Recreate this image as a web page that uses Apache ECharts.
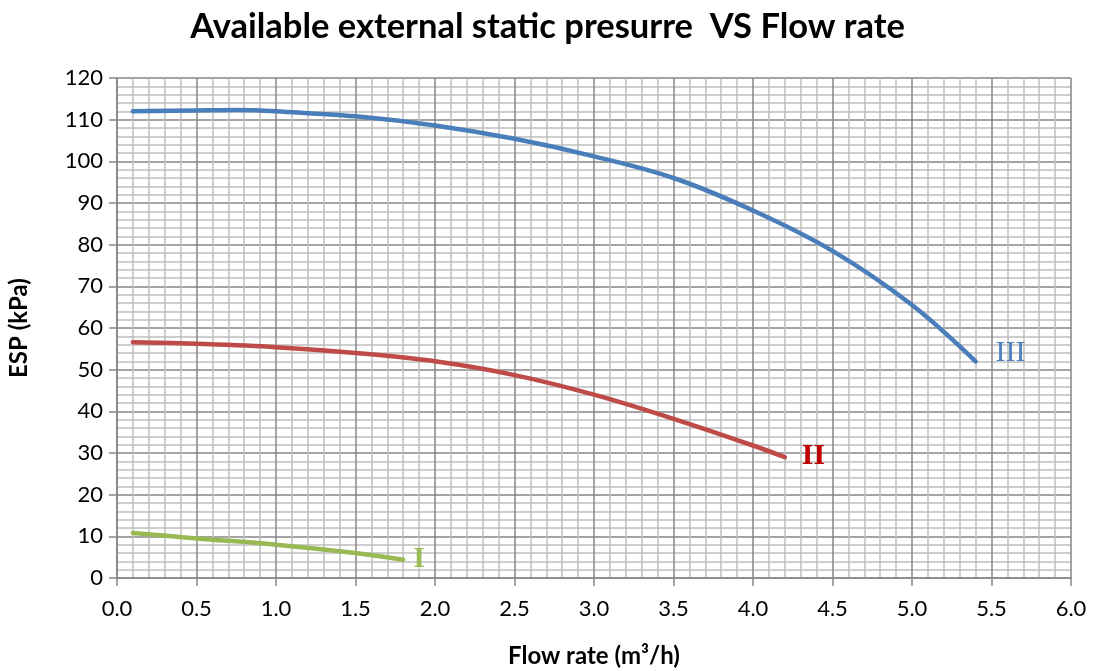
<!DOCTYPE html>
<html><head><meta charset="utf-8">
<script src="https://cdn.jsdelivr.net/npm/echarts@6/dist/echarts.min.js"></script>
<style>html,body{margin:0;padding:0;background:#fff}#c{width:1095px;height:671px}</style>
</head><body><div id="c"></div>
<script>
const seriesIII = [[0.1,112],[0.5,112.2],[0.75,112.3],[1.0,112],[1.5,110.8],[2.0,108.6],[2.5,105.4],[3.0,101.2],[3.5,96],[4.0,88.2],[4.5,78.5],[5.0,65.5],[5.4,52]];
const seriesII = [[0.1,56.6],[0.5,56.2],[1.0,55.4],[1.5,54],[2.0,52],[2.5,48.7],[3.0,44],[3.5,38.2],[4.0,31.8],[4.2,29]];
const seriesI = [[0.1,10.8],[0.5,9.5],[1.0,8],[1.5,6],[1.8,4.4]];
const curveLabels = ['III','II','I'];
const labelCoords = [[5.62,54],[4.38,29.2],[1.9,4.6]];
const xTicks = {min:0, max:6, interval:0.5};
const yTicks = {min:0, max:120, interval:10};

const chart = echarts.init(document.getElementById('c'));
function mk(name, data, color, labColor, idx, bold) {
  return {
    name, type:'line', data, smooth:0.35, showSymbol:false, symbol:'none',
    lineStyle:{color, width:4.5, cap:'round'},
    markPoint:{
      symbol:'circle', symbolSize:0, silent:true,
      data:[{coord:labelCoords[idx], label:{show:true, formatter:curveLabels[idx], color:labColor,
        fontFamily:'Liberation Serif', fontSize:30, fontWeight: bold?'bold':'normal'}}]
    }
  };
}
chart.setOption({
  animation:false,
  title:{text:'Available external static presurre  VS Flow rate', left:'center', top:4,
    textStyle:{fontFamily:'Lato', fontWeight:'bold', fontSize:34.5, color:'#000'}},
  grid:{left:117, right:24, top:78, bottom:93, outerBoundsMode:'none', containLabel:false},
  xAxis:{type:'value', min:xTicks.min, max:xTicks.max, interval:xTicks.interval,
    name:'Flow rate (m³/h)', nameLocation:'middle', nameGap:66,
    nameTextStyle:{fontFamily:'Lato', fontWeight:'bold', fontSize:24, color:'#000'},
    axisLine:{show:true, lineStyle:{color:'#868686', width:1.5}},
    axisTick:{show:true, length:8, lineStyle:{color:'#868686', width:1.5}},
    axisLabel:{formatter:v=>v.toFixed(1), fontFamily:'Lato', fontSize:22, color:'#000', margin:20},
    splitLine:{show:true, lineStyle:{color:'#868686', width:1.5}},
    minorTick:{show:false, splitNumber:5},
    minorSplitLine:{show:true, lineStyle:{color:'#bfbfbf', width:1.5}}
  },
  yAxis:{type:'value', min:yTicks.min, max:yTicks.max, interval:yTicks.interval,
    name:'ESP (kPa)', nameLocation:'middle', nameGap:86, nameRotate:90,
    nameTextStyle:{fontFamily:'Lato', fontWeight:'bold', fontSize:24, color:'#000'},
    axisLine:{show:true, lineStyle:{color:'#868686', width:1.5}},
    axisTick:{show:true, length:8, lineStyle:{color:'#868686', width:1.5}},
    axisLabel:{fontFamily:'Lato', fontSize:22, color:'#000', margin:14},
    splitLine:{show:true, lineStyle:{color:'#868686', width:1.5}},
    minorTick:{show:false, splitNumber:5},
    minorSplitLine:{show:true, lineStyle:{color:'#bfbfbf', width:1.5}}
  },
  series:[
    mk('III', seriesIII, '#4a7ebb', '#4f81bd', 0, false),
    mk('II', seriesII, '#be4b48', '#c00000', 1, true),
    mk('I', seriesI, '#98b954', '#9bbb59', 2, true)
  ]
});
</script></body></html>
